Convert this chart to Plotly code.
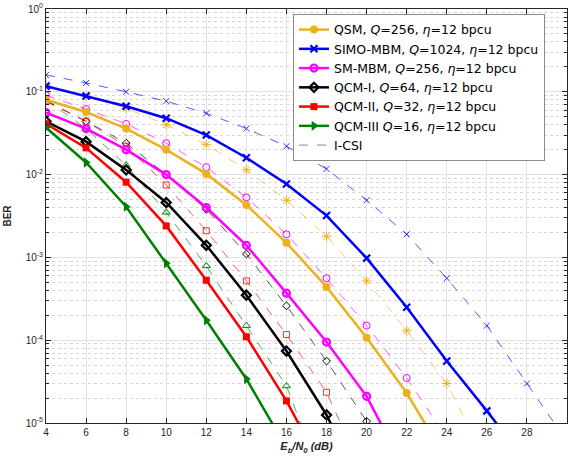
import plotly.graph_objects as go

# ---------------- data ----------------
qsm_x = [4, 6, 8, 10, 12, 14, 16, 18, 20, 22, 24]
qsm_ber = [0.080, 0.057, 0.036, 0.020, 0.0102, 0.0043, 0.0015, 4.4e-4, 1.07e-4, 2.3e-5, 3.6e-6]
qsm_icsi_x = [4, 6, 8, 10, 12, 14, 16, 18, 20, 22, 24, 26]
qsm_icsi_ber = [0.12, 0.089, 0.063, 0.040, 0.023, 0.0114, 0.0049, 0.0018, 5.2e-4, 1.3e-4, 3.0e-5, 3.3e-6]

simo_x = [4, 6, 8, 10, 12, 14, 16, 18, 20, 22, 24, 26, 28]
simo_ber = [0.117, 0.089, 0.067, 0.048, 0.030, 0.016, 0.0077, 0.0032, 9.8e-4, 2.5e-4, 5.6e-5, 1.4e-5, 3.3e-6]
simo_icsi_x = [4, 6, 8, 10, 12, 14, 16, 18, 20, 22, 24, 26, 28, 30]
simo_icsi_ber = [0.16, 0.128, 0.10, 0.077, 0.055, 0.036, 0.022, 0.0117, 0.0049, 0.0019, 5.6e-4, 1.5e-4, 3.0e-5, 6.0e-6]

smmbm_x = [4, 6, 8, 10, 12, 14, 16, 18, 20, 22]
smmbm_ber = [0.056, 0.036, 0.020, 0.010, 0.0040, 0.0014, 3.7e-4, 9.5e-5, 2.1e-5, 2.5e-6]
smmbm_icsi_x = [4, 6, 8, 10, 12, 14, 16, 18, 20, 22, 24]
smmbm_icsi_ber = [0.091, 0.062, 0.041, 0.024, 0.0123, 0.0053, 0.0019, 5.6e-4, 1.5e-4, 3.5e-5, 6.6e-6]

qcm1_x = [4, 6, 8, 10, 12, 14, 16, 18, 20]
qcm1_ber = [0.044, 0.025, 0.0114, 0.0046, 0.0014, 3.5e-4, 7.4e-5, 1.25e-5, 1.3e-6]
qcm1_icsi_x = [4, 6, 8, 10, 12, 14, 16, 18, 20, 22]
qcm1_icsi_ber = [0.078, 0.044, 0.024, 0.010, 0.0038, 0.0011, 2.6e-4, 5.6e-5, 1.05e-5, 2.0e-6]

qcm2_x = [4, 6, 8, 10, 12, 14, 16, 18]
qcm2_ber = [0.041, 0.021, 0.0081, 0.0024, 5.3e-4, 1.1e-4, 1.85e-5, 2.3e-6]
qcm2_icsi_x = [4, 6, 8, 10, 12, 14, 16, 18, 20]
qcm2_icsi_ber = [0.076, 0.044, 0.022, 0.0075, 0.0021, 5.2e-4, 1.17e-4, 2.35e-5, 2.0e-6]

qcm3_x = [4, 6, 8, 10, 12, 14, 16]
qcm3_ber = [0.037, 0.014, 0.0041, 8.5e-4, 1.74e-4, 3.4e-5, 5.0e-6]
qcm3_icsi_x = [4, 6, 8, 10, 12, 14, 16, 18]
qcm3_icsi_ber = [0.080, 0.036, 0.013, 0.0035, 7.9e-4, 1.5e-4, 2.8e-5, 1.5e-6]

x_ticks = [4, 6, 8, 10, 12, 14, 16, 18, 20, 22, 24, 26, 28]
y_ticks = [1e-5, 1e-4, 1e-3, 1e-2, 1e-1, 1]
y_ticktext = ["10<sup>-5</sup>", "10<sup>-4</sup>", "10<sup>-3</sup>", "10<sup>-2</sup>",
              "10<sup>-1</sup>", "10<sup>0</sup>"]

names = [
    "QSM, <i>Q</i>=256, <i>η</i>=12 bpcu",
    "SIMO-MBM, <i>Q</i>=1024, <i>η</i>=12 bpcu",
    "SM-MBM, <i>Q</i>=256, <i>η</i>=12 bpcu",
    "QCM-I, <i>Q</i>=64, <i>η</i>=12 bpcu",
    "QCM-II, <i>Q</i>=32, <i>η</i>=12 bpcu",
    "QCM-III <i>Q</i>=16, <i>η</i>=12 bpcu",
]

# ---------------- styles ----------------
ORANGE = "#EDB120"
BLUE = "#0000FF"
MAGENTA = "#FF00FF"
BLACK = "#000000"
RED = "#FF0000"
GREEN = "#008000"

def faded(hexc, a=0.6):
    h = hexc.lstrip("#")
    r, g, b = int(h[0:2], 16), int(h[2:4], 16), int(h[4:6], 16)
    return f"rgba({r},{g},{b},{a})"

series = [
    (qsm_x, qsm_ber, qsm_icsi_x, qsm_icsi_ber, ORANGE,
     dict(symbol="circle", size=8, color=ORANGE, line=dict(width=0)),
     dict(symbol="asterisk-open", size=8, color=ORANGE, line=dict(width=1, color=ORANGE))),
    (simo_x, simo_ber, simo_icsi_x, simo_icsi_ber, BLUE,
     dict(symbol="x-thin", size=7, color=BLUE, line=dict(width=2.2, color=BLUE)),
     dict(symbol="x-thin-open", size=6, color=faded(BLUE, 0.8), line=dict(width=1, color=faded(BLUE, 0.8)))),
    (smmbm_x, smmbm_ber, smmbm_icsi_x, smmbm_icsi_ber, MAGENTA,
     dict(symbol="circle-open", size=7, color=MAGENTA, line=dict(width=2.2, color=MAGENTA)),
     dict(symbol="circle-open", size=7, color=MAGENTA, line=dict(width=1, color=MAGENTA))),
    (qcm1_x, qcm1_ber, qcm1_icsi_x, qcm1_icsi_ber, BLACK,
     dict(symbol="diamond-open", size=7, color=BLACK, line=dict(width=2.2, color=BLACK)),
     dict(symbol="diamond-open", size=6, color=BLACK, line=dict(width=1, color=BLACK))),
    (qcm2_x, qcm2_ber, qcm2_icsi_x, qcm2_icsi_ber, RED,
     dict(symbol="square", size=7, color=RED, line=dict(width=0)),
     dict(symbol="square-open", size=6, color=faded(RED, 0.8), line=dict(width=1, color=faded(RED, 0.8)))),
    (qcm3_x, qcm3_ber, qcm3_icsi_x, qcm3_icsi_ber, GREEN,
     dict(symbol="triangle-right", size=9, color=GREEN, line=dict(width=0)),
     dict(symbol="triangle-up-open", size=7, color=GREEN, line=dict(width=1, color=GREEN))),
]

fig = go.Figure()

# dashed I-CSI curves first (behind)
for sx, sy, dx, dy, col, mk, dmk in series:
    fig.add_trace(go.Scatter(
        x=dx, y=dy, mode="lines+markers", showlegend=False,
        line=dict(color=faded(col, 0.65), width=1, dash="dash"),
        marker=dmk,
    ))

for (sx, sy, dx, dy, col, mk, dmk), nm in zip(series, names):
    fig.add_trace(go.Scatter(
        x=sx, y=sy, mode="lines+markers", name=nm,
        line=dict(color=col, width=2.5),
        marker=mk,
    ))

fig.add_trace(go.Scatter(
    x=[None], y=[None], mode="lines", name="I-CSI",
    line=dict(color="#888888", width=1, dash="dash"),
))

grid_major = "#e3e3e3"
grid_minor = "#d6d6d6"
tick_font = dict(family="Liberation Sans, Arial, sans-serif", size=10, color="#262626")

fig.update_layout(
    width=569, height=457,
    margin=dict(l=46, r=2, t=9, b=34),
    paper_bgcolor="white", plot_bgcolor="white",
    font=dict(family="Liberation Sans, Arial, sans-serif", size=10, color="#262626"),
    showlegend=True,
    legend=dict(
        x=0.474, y=0.988, xanchor="left", yanchor="top",
        bgcolor="white", bordercolor="#8c8c8c", borderwidth=1,
        font=dict(family="DejaVu Sans, sans-serif", size=12.5, color="#000000"),
        itemwidth=30, tracegroupgap=0,
    ),
    xaxis=dict(
        range=[4, 30], tickvals=x_ticks, ticks="inside", ticklen=5, tickcolor="#262626",
        showline=True, linecolor="#262626", linewidth=1, mirror="ticks",
        showgrid=True, gridcolor=grid_major, gridwidth=1, zeroline=False,
        tickfont=tick_font,
        title=dict(text="<b><i>E<sub>b</sub>/N<sub>0</sub> (dB)</i></b>",
                   font=dict(size=11, color="#262626"), standoff=5),
    ),
    yaxis=dict(
        type="log", range=[-5, 0], tickvals=y_ticks, ticktext=y_ticktext,
        ticks="inside", ticklen=5, tickcolor="#262626",
        showline=True, linecolor="#262626", linewidth=1, mirror="ticks",
        showgrid=True, gridcolor=grid_major, gridwidth=1, zeroline=False,
        tickfont=tick_font,
        minor=dict(ticks="inside", ticklen=3, tickcolor="#262626", dtick="D1",
                   showgrid=True, gridcolor=grid_minor, griddash="dot", gridwidth=1),
        title=dict(text="<b>BER</b>", font=dict(size=10, color="#262626"), standoff=12),
    ),
)

fig.write_html("out.html", config={"displayModeBar": False},
               post_script="document.body.style.margin='0px';")
